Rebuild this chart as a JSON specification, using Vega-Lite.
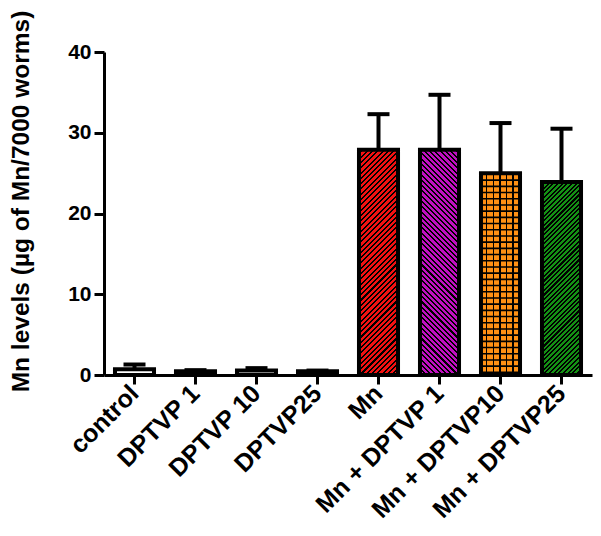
{
  "$schema": "https://vega.github.io/schema/vega-lite/v6.json",
  "width": 488,
  "height": 323,
  "autosize": {"type": "none"},
  "padding": {"left": 104, "top": 52, "right": 9, "bottom": 161},
  "background": "white",
  "config": {"view": {"stroke": null}, "font": "Liberation Sans"},
  "data": {"values": [
    {"group": "control", "value": 0.7, "upper": 1.3},
    {"group": "DPTVP 1", "value": 0.45, "upper": 0.6},
    {"group": "DPTVP 10", "value": 0.55, "upper": 0.85},
    {"group": "DPTVP25", "value": 0.45, "upper": 0.55},
    {"group": "Mn", "value": 27.9, "upper": 32.3},
    {"group": "Mn + DPTVP 1", "value": 27.9, "upper": 34.7},
    {"group": "Mn + DPTVP10", "value": 25.0, "upper": 31.2},
    {"group": "Mn + DPTVP25", "value": 23.9, "upper": 30.5}
  ]},
  "encoding": {
    "x": {"field": "group", "type": "nominal", "sort": null,
      "scale": {"domain": ["control", "DPTVP 1", "DPTVP 10", "DPTVP25", "Mn", "Mn + DPTVP 1", "Mn + DPTVP10", "Mn + DPTVP25"], "paddingInner": 0.36, "paddingOuter": 0.18},
      "axis": {"title": null, "labelAngle": -45, "labelAlign": "right", "labelBaseline": "middle",
        "labelFontSize": 25, "labelFontWeight": "bold", "labelColor": "black", "labelPadding": 5,
        "domainColor": "black", "domainWidth": 3, "tickColor": "black", "tickWidth": 3, "tickSize": 9}}
  },
  "layer": [
    {"mark": {"type": "rule", "strokeWidth": 4, "color": "black"},
     "encoding": {
       "y": {"field": "value", "type": "quantitative",
         "scale": {"domain": [0, 40], "nice": false},
         "axis": {"title": "Mn levels (µg of Mn/7000 worms)", "titleFontSize": 24.5, "titleFontWeight": "bold",
           "titleColor": "black", "titleX": -71, "titleY": 149, "titleBaseline": "bottom", "titleAngle": -90, "titleAlign": "center",
           "values": [0, 10, 20, 30, 40],
           "labelFontSize": 21, "labelFontWeight": "bold", "labelColor": "black", "labelPadding": 3,
           "domainColor": "black", "domainWidth": 3, "tickColor": "black", "tickWidth": 3, "tickSize": 10, "grid": false}},
       "y2": {"field": "upper"}}},
    {"mark": {"type": "tick", "thickness": 4, "size": 22, "color": "black", "opacity": 1},
     "encoding": {"y": {"field": "upper", "type": "quantitative"}}},
    {"mark": {"type": "bar", "fill": "white"},
     "encoding": {"y": {"field": "value", "type": "quantitative"}}},
    {"transform": [{"filter": "datum.group === 'Mn'"}],
     "mark": {"type": "bar", "fill": {"gradient": "linear", "x1": 0, "y1": 0, "x2": 0.1974, "y2": 1.1391, "stops": [
{"offset":0,"color":"#f21212"},{"offset":0.012,"color":"#f21212"},{"offset":0.012,"color":"#000"},{"offset":0.02,"color":"#000"},
{"offset":0.02,"color":"#f21212"},{"offset":0.032,"color":"#f21212"},{"offset":0.032,"color":"#000"},{"offset":0.04,"color":"#000"},
{"offset":0.04,"color":"#f21212"},{"offset":0.052,"color":"#f21212"},{"offset":0.052,"color":"#000"},{"offset":0.06,"color":"#000"},
{"offset":0.06,"color":"#f21212"},{"offset":0.072,"color":"#f21212"},{"offset":0.072,"color":"#000"},{"offset":0.08,"color":"#000"},
{"offset":0.08,"color":"#f21212"},{"offset":0.092,"color":"#f21212"},{"offset":0.092,"color":"#000"},{"offset":0.1,"color":"#000"},
{"offset":0.1,"color":"#f21212"},{"offset":0.112,"color":"#f21212"},{"offset":0.112,"color":"#000"},{"offset":0.12,"color":"#000"},
{"offset":0.12,"color":"#f21212"},{"offset":0.132,"color":"#f21212"},{"offset":0.132,"color":"#000"},{"offset":0.14,"color":"#000"},
{"offset":0.14,"color":"#f21212"},{"offset":0.152,"color":"#f21212"},{"offset":0.152,"color":"#000"},{"offset":0.16,"color":"#000"},
{"offset":0.16,"color":"#f21212"},{"offset":0.172,"color":"#f21212"},{"offset":0.172,"color":"#000"},{"offset":0.18,"color":"#000"},
{"offset":0.18,"color":"#f21212"},{"offset":0.192,"color":"#f21212"},{"offset":0.192,"color":"#000"},{"offset":0.2,"color":"#000"},
{"offset":0.2,"color":"#f21212"},{"offset":0.212,"color":"#f21212"},{"offset":0.212,"color":"#000"},{"offset":0.22,"color":"#000"},
{"offset":0.22,"color":"#f21212"},{"offset":0.232,"color":"#f21212"},{"offset":0.232,"color":"#000"},{"offset":0.24,"color":"#000"},
{"offset":0.24,"color":"#f21212"},{"offset":0.252,"color":"#f21212"},{"offset":0.252,"color":"#000"},{"offset":0.26,"color":"#000"},
{"offset":0.26,"color":"#f21212"},{"offset":0.272,"color":"#f21212"},{"offset":0.272,"color":"#000"},{"offset":0.28,"color":"#000"},
{"offset":0.28,"color":"#f21212"},{"offset":0.292,"color":"#f21212"},{"offset":0.292,"color":"#000"},{"offset":0.3,"color":"#000"},
{"offset":0.3,"color":"#f21212"},{"offset":0.312,"color":"#f21212"},{"offset":0.312,"color":"#000"},{"offset":0.32,"color":"#000"},
{"offset":0.32,"color":"#f21212"},{"offset":0.332,"color":"#f21212"},{"offset":0.332,"color":"#000"},{"offset":0.34,"color":"#000"},
{"offset":0.34,"color":"#f21212"},{"offset":0.352,"color":"#f21212"},{"offset":0.352,"color":"#000"},{"offset":0.36,"color":"#000"},
{"offset":0.36,"color":"#f21212"},{"offset":0.372,"color":"#f21212"},{"offset":0.372,"color":"#000"},{"offset":0.38,"color":"#000"},
{"offset":0.38,"color":"#f21212"},{"offset":0.392,"color":"#f21212"},{"offset":0.392,"color":"#000"},{"offset":0.4,"color":"#000"},
{"offset":0.4,"color":"#f21212"},{"offset":0.412,"color":"#f21212"},{"offset":0.412,"color":"#000"},{"offset":0.42,"color":"#000"},
{"offset":0.42,"color":"#f21212"},{"offset":0.432,"color":"#f21212"},{"offset":0.432,"color":"#000"},{"offset":0.44,"color":"#000"},
{"offset":0.44,"color":"#f21212"},{"offset":0.452,"color":"#f21212"},{"offset":0.452,"color":"#000"},{"offset":0.46,"color":"#000"},
{"offset":0.46,"color":"#f21212"},{"offset":0.472,"color":"#f21212"},{"offset":0.472,"color":"#000"},{"offset":0.48,"color":"#000"},
{"offset":0.48,"color":"#f21212"},{"offset":0.492,"color":"#f21212"},{"offset":0.492,"color":"#000"},{"offset":0.5,"color":"#000"},
{"offset":0.5,"color":"#f21212"},{"offset":0.512,"color":"#f21212"},{"offset":0.512,"color":"#000"},{"offset":0.52,"color":"#000"},
{"offset":0.52,"color":"#f21212"},{"offset":0.532,"color":"#f21212"},{"offset":0.532,"color":"#000"},{"offset":0.54,"color":"#000"},
{"offset":0.54,"color":"#f21212"},{"offset":0.552,"color":"#f21212"},{"offset":0.552,"color":"#000"},{"offset":0.56,"color":"#000"},
{"offset":0.56,"color":"#f21212"},{"offset":0.572,"color":"#f21212"},{"offset":0.572,"color":"#000"},{"offset":0.58,"color":"#000"},
{"offset":0.58,"color":"#f21212"},{"offset":0.592,"color":"#f21212"},{"offset":0.592,"color":"#000"},{"offset":0.6,"color":"#000"},
{"offset":0.6,"color":"#f21212"},{"offset":0.612,"color":"#f21212"},{"offset":0.612,"color":"#000"},{"offset":0.62,"color":"#000"},
{"offset":0.62,"color":"#f21212"},{"offset":0.632,"color":"#f21212"},{"offset":0.632,"color":"#000"},{"offset":0.64,"color":"#000"},
{"offset":0.64,"color":"#f21212"},{"offset":0.652,"color":"#f21212"},{"offset":0.652,"color":"#000"},{"offset":0.66,"color":"#000"},
{"offset":0.66,"color":"#f21212"},{"offset":0.672,"color":"#f21212"},{"offset":0.672,"color":"#000"},{"offset":0.68,"color":"#000"},
{"offset":0.68,"color":"#f21212"},{"offset":0.692,"color":"#f21212"},{"offset":0.692,"color":"#000"},{"offset":0.7,"color":"#000"},
{"offset":0.7,"color":"#f21212"},{"offset":0.712,"color":"#f21212"},{"offset":0.712,"color":"#000"},{"offset":0.72,"color":"#000"},
{"offset":0.72,"color":"#f21212"},{"offset":0.732,"color":"#f21212"},{"offset":0.732,"color":"#000"},{"offset":0.74,"color":"#000"},
{"offset":0.74,"color":"#f21212"},{"offset":0.752,"color":"#f21212"},{"offset":0.752,"color":"#000"},{"offset":0.76,"color":"#000"},
{"offset":0.76,"color":"#f21212"},{"offset":0.772,"color":"#f21212"},{"offset":0.772,"color":"#000"},{"offset":0.78,"color":"#000"},
{"offset":0.78,"color":"#f21212"},{"offset":0.792,"color":"#f21212"},{"offset":0.792,"color":"#000"},{"offset":0.8,"color":"#000"},
{"offset":0.8,"color":"#f21212"},{"offset":0.812,"color":"#f21212"},{"offset":0.812,"color":"#000"},{"offset":0.82,"color":"#000"},
{"offset":0.82,"color":"#f21212"},{"offset":0.832,"color":"#f21212"},{"offset":0.832,"color":"#000"},{"offset":0.84,"color":"#000"},
{"offset":0.84,"color":"#f21212"},{"offset":0.852,"color":"#f21212"},{"offset":0.852,"color":"#000"},{"offset":0.86,"color":"#000"},
{"offset":0.86,"color":"#f21212"},{"offset":0.872,"color":"#f21212"},{"offset":0.872,"color":"#000"},{"offset":0.88,"color":"#000"},
{"offset":0.88,"color":"#f21212"},{"offset":0.892,"color":"#f21212"},{"offset":0.892,"color":"#000"},{"offset":0.9,"color":"#000"},
{"offset":0.9,"color":"#f21212"},{"offset":0.912,"color":"#f21212"},{"offset":0.912,"color":"#000"},{"offset":0.92,"color":"#000"},
{"offset":0.92,"color":"#f21212"},{"offset":0.932,"color":"#f21212"},{"offset":0.932,"color":"#000"},{"offset":0.94,"color":"#000"},
{"offset":0.94,"color":"#f21212"},{"offset":0.952,"color":"#f21212"},{"offset":0.952,"color":"#000"},{"offset":0.96,"color":"#000"},
{"offset":0.96,"color":"#f21212"},{"offset":0.972,"color":"#f21212"},{"offset":0.972,"color":"#000"},{"offset":0.98,"color":"#000"},
{"offset":0.98,"color":"#f21212"},{"offset":0.992,"color":"#f21212"},{"offset":0.992,"color":"#000"},{"offset":1,"color":"#000"}
     ]}},
     "encoding": {"y": {"field": "value", "type": "quantitative"}}},
    {"transform": [{"filter": "datum.group === 'Mn + DPTVP 1'"}],
     "mark": {"type": "bar", "fill": {"gradient": "linear", "x1": 1, "y1": 0, "x2": 0.8026, "y2": 1.1391, "stops": [
{"offset":0,"color":"#c010c0"},{"offset":0.012,"color":"#c010c0"},{"offset":0.012,"color":"#000"},{"offset":0.02,"color":"#000"},
{"offset":0.02,"color":"#c010c0"},{"offset":0.032,"color":"#c010c0"},{"offset":0.032,"color":"#000"},{"offset":0.04,"color":"#000"},
{"offset":0.04,"color":"#c010c0"},{"offset":0.052,"color":"#c010c0"},{"offset":0.052,"color":"#000"},{"offset":0.06,"color":"#000"},
{"offset":0.06,"color":"#c010c0"},{"offset":0.072,"color":"#c010c0"},{"offset":0.072,"color":"#000"},{"offset":0.08,"color":"#000"},
{"offset":0.08,"color":"#c010c0"},{"offset":0.092,"color":"#c010c0"},{"offset":0.092,"color":"#000"},{"offset":0.1,"color":"#000"},
{"offset":0.1,"color":"#c010c0"},{"offset":0.112,"color":"#c010c0"},{"offset":0.112,"color":"#000"},{"offset":0.12,"color":"#000"},
{"offset":0.12,"color":"#c010c0"},{"offset":0.132,"color":"#c010c0"},{"offset":0.132,"color":"#000"},{"offset":0.14,"color":"#000"},
{"offset":0.14,"color":"#c010c0"},{"offset":0.152,"color":"#c010c0"},{"offset":0.152,"color":"#000"},{"offset":0.16,"color":"#000"},
{"offset":0.16,"color":"#c010c0"},{"offset":0.172,"color":"#c010c0"},{"offset":0.172,"color":"#000"},{"offset":0.18,"color":"#000"},
{"offset":0.18,"color":"#c010c0"},{"offset":0.192,"color":"#c010c0"},{"offset":0.192,"color":"#000"},{"offset":0.2,"color":"#000"},
{"offset":0.2,"color":"#c010c0"},{"offset":0.212,"color":"#c010c0"},{"offset":0.212,"color":"#000"},{"offset":0.22,"color":"#000"},
{"offset":0.22,"color":"#c010c0"},{"offset":0.232,"color":"#c010c0"},{"offset":0.232,"color":"#000"},{"offset":0.24,"color":"#000"},
{"offset":0.24,"color":"#c010c0"},{"offset":0.252,"color":"#c010c0"},{"offset":0.252,"color":"#000"},{"offset":0.26,"color":"#000"},
{"offset":0.26,"color":"#c010c0"},{"offset":0.272,"color":"#c010c0"},{"offset":0.272,"color":"#000"},{"offset":0.28,"color":"#000"},
{"offset":0.28,"color":"#c010c0"},{"offset":0.292,"color":"#c010c0"},{"offset":0.292,"color":"#000"},{"offset":0.3,"color":"#000"},
{"offset":0.3,"color":"#c010c0"},{"offset":0.312,"color":"#c010c0"},{"offset":0.312,"color":"#000"},{"offset":0.32,"color":"#000"},
{"offset":0.32,"color":"#c010c0"},{"offset":0.332,"color":"#c010c0"},{"offset":0.332,"color":"#000"},{"offset":0.34,"color":"#000"},
{"offset":0.34,"color":"#c010c0"},{"offset":0.352,"color":"#c010c0"},{"offset":0.352,"color":"#000"},{"offset":0.36,"color":"#000"},
{"offset":0.36,"color":"#c010c0"},{"offset":0.372,"color":"#c010c0"},{"offset":0.372,"color":"#000"},{"offset":0.38,"color":"#000"},
{"offset":0.38,"color":"#c010c0"},{"offset":0.392,"color":"#c010c0"},{"offset":0.392,"color":"#000"},{"offset":0.4,"color":"#000"},
{"offset":0.4,"color":"#c010c0"},{"offset":0.412,"color":"#c010c0"},{"offset":0.412,"color":"#000"},{"offset":0.42,"color":"#000"},
{"offset":0.42,"color":"#c010c0"},{"offset":0.432,"color":"#c010c0"},{"offset":0.432,"color":"#000"},{"offset":0.44,"color":"#000"},
{"offset":0.44,"color":"#c010c0"},{"offset":0.452,"color":"#c010c0"},{"offset":0.452,"color":"#000"},{"offset":0.46,"color":"#000"},
{"offset":0.46,"color":"#c010c0"},{"offset":0.472,"color":"#c010c0"},{"offset":0.472,"color":"#000"},{"offset":0.48,"color":"#000"},
{"offset":0.48,"color":"#c010c0"},{"offset":0.492,"color":"#c010c0"},{"offset":0.492,"color":"#000"},{"offset":0.5,"color":"#000"},
{"offset":0.5,"color":"#c010c0"},{"offset":0.512,"color":"#c010c0"},{"offset":0.512,"color":"#000"},{"offset":0.52,"color":"#000"},
{"offset":0.52,"color":"#c010c0"},{"offset":0.532,"color":"#c010c0"},{"offset":0.532,"color":"#000"},{"offset":0.54,"color":"#000"},
{"offset":0.54,"color":"#c010c0"},{"offset":0.552,"color":"#c010c0"},{"offset":0.552,"color":"#000"},{"offset":0.56,"color":"#000"},
{"offset":0.56,"color":"#c010c0"},{"offset":0.572,"color":"#c010c0"},{"offset":0.572,"color":"#000"},{"offset":0.58,"color":"#000"},
{"offset":0.58,"color":"#c010c0"},{"offset":0.592,"color":"#c010c0"},{"offset":0.592,"color":"#000"},{"offset":0.6,"color":"#000"},
{"offset":0.6,"color":"#c010c0"},{"offset":0.612,"color":"#c010c0"},{"offset":0.612,"color":"#000"},{"offset":0.62,"color":"#000"},
{"offset":0.62,"color":"#c010c0"},{"offset":0.632,"color":"#c010c0"},{"offset":0.632,"color":"#000"},{"offset":0.64,"color":"#000"},
{"offset":0.64,"color":"#c010c0"},{"offset":0.652,"color":"#c010c0"},{"offset":0.652,"color":"#000"},{"offset":0.66,"color":"#000"},
{"offset":0.66,"color":"#c010c0"},{"offset":0.672,"color":"#c010c0"},{"offset":0.672,"color":"#000"},{"offset":0.68,"color":"#000"},
{"offset":0.68,"color":"#c010c0"},{"offset":0.692,"color":"#c010c0"},{"offset":0.692,"color":"#000"},{"offset":0.7,"color":"#000"},
{"offset":0.7,"color":"#c010c0"},{"offset":0.712,"color":"#c010c0"},{"offset":0.712,"color":"#000"},{"offset":0.72,"color":"#000"},
{"offset":0.72,"color":"#c010c0"},{"offset":0.732,"color":"#c010c0"},{"offset":0.732,"color":"#000"},{"offset":0.74,"color":"#000"},
{"offset":0.74,"color":"#c010c0"},{"offset":0.752,"color":"#c010c0"},{"offset":0.752,"color":"#000"},{"offset":0.76,"color":"#000"},
{"offset":0.76,"color":"#c010c0"},{"offset":0.772,"color":"#c010c0"},{"offset":0.772,"color":"#000"},{"offset":0.78,"color":"#000"},
{"offset":0.78,"color":"#c010c0"},{"offset":0.792,"color":"#c010c0"},{"offset":0.792,"color":"#000"},{"offset":0.8,"color":"#000"},
{"offset":0.8,"color":"#c010c0"},{"offset":0.812,"color":"#c010c0"},{"offset":0.812,"color":"#000"},{"offset":0.82,"color":"#000"},
{"offset":0.82,"color":"#c010c0"},{"offset":0.832,"color":"#c010c0"},{"offset":0.832,"color":"#000"},{"offset":0.84,"color":"#000"},
{"offset":0.84,"color":"#c010c0"},{"offset":0.852,"color":"#c010c0"},{"offset":0.852,"color":"#000"},{"offset":0.86,"color":"#000"},
{"offset":0.86,"color":"#c010c0"},{"offset":0.872,"color":"#c010c0"},{"offset":0.872,"color":"#000"},{"offset":0.88,"color":"#000"},
{"offset":0.88,"color":"#c010c0"},{"offset":0.892,"color":"#c010c0"},{"offset":0.892,"color":"#000"},{"offset":0.9,"color":"#000"},
{"offset":0.9,"color":"#c010c0"},{"offset":0.912,"color":"#c010c0"},{"offset":0.912,"color":"#000"},{"offset":0.92,"color":"#000"},
{"offset":0.92,"color":"#c010c0"},{"offset":0.932,"color":"#c010c0"},{"offset":0.932,"color":"#000"},{"offset":0.94,"color":"#000"},
{"offset":0.94,"color":"#c010c0"},{"offset":0.952,"color":"#c010c0"},{"offset":0.952,"color":"#000"},{"offset":0.96,"color":"#000"},
{"offset":0.96,"color":"#c010c0"},{"offset":0.972,"color":"#c010c0"},{"offset":0.972,"color":"#000"},{"offset":0.98,"color":"#000"},
{"offset":0.98,"color":"#c010c0"},{"offset":0.992,"color":"#c010c0"},{"offset":0.992,"color":"#000"},{"offset":1,"color":"#000"}
     ]}},
     "encoding": {"y": {"field": "value", "type": "quantitative"}}},
    {"transform": [{"filter": "datum.group === 'Mn + DPTVP10'"}],
     "mark": {"type": "bar", "fill": {"gradient": "linear", "x1": 0, "y1": 0, "x2": 1, "y2": 0, "stops": [
{"offset":0,"color":"#ff9014"},{"offset":0.13,"color":"#ff9014"},{"offset":0.13,"color":"#000"},{"offset":0.1667,"color":"#000"},
{"offset":0.1667,"color":"#ff9014"},{"offset":0.2967,"color":"#ff9014"},{"offset":0.2967,"color":"#000"},{"offset":0.3333,"color":"#000"},
{"offset":0.3333,"color":"#ff9014"},{"offset":0.4633,"color":"#ff9014"},{"offset":0.4633,"color":"#000"},{"offset":0.5,"color":"#000"},
{"offset":0.5,"color":"#ff9014"},{"offset":0.63,"color":"#ff9014"},{"offset":0.63,"color":"#000"},{"offset":0.6667,"color":"#000"},
{"offset":0.6667,"color":"#ff9014"},{"offset":0.7967,"color":"#ff9014"},{"offset":0.7967,"color":"#000"},{"offset":0.8333,"color":"#000"},
{"offset":0.8333,"color":"#ff9014"},{"offset":0.9633,"color":"#ff9014"},{"offset":0.9633,"color":"#000"},{"offset":1,"color":"#000"}
     ]}},
     "encoding": {"y": {"field": "value", "type": "quantitative"}}},
    {"transform": [{"filter": "datum.group === 'Mn + DPTVP10'"}],
     "mark": {"type": "rule", "strokeWidth": 39, "strokeDash": [1.6, 4.6], "color": "black"},
     "encoding": {"y": {"field": "value", "type": "quantitative"}, "y2": {"datum": 0}}},
    {"transform": [{"filter": "datum.group === 'Mn + DPTVP25'"}],
     "mark": {"type": "bar", "fill": {"gradient": "linear", "x1": 0, "y1": 0, "x2": 0.2336, "y2": 1.155, "stops": [
{"offset":0,"color":"#149014"},{"offset":0.011,"color":"#149014"},{"offset":0.011,"color":"#000"},{"offset":0.02,"color":"#000"},
{"offset":0.02,"color":"#149014"},{"offset":0.031,"color":"#149014"},{"offset":0.031,"color":"#000"},{"offset":0.04,"color":"#000"},
{"offset":0.04,"color":"#149014"},{"offset":0.051,"color":"#149014"},{"offset":0.051,"color":"#000"},{"offset":0.06,"color":"#000"},
{"offset":0.06,"color":"#149014"},{"offset":0.071,"color":"#149014"},{"offset":0.071,"color":"#000"},{"offset":0.08,"color":"#000"},
{"offset":0.08,"color":"#149014"},{"offset":0.091,"color":"#149014"},{"offset":0.091,"color":"#000"},{"offset":0.1,"color":"#000"},
{"offset":0.1,"color":"#149014"},{"offset":0.111,"color":"#149014"},{"offset":0.111,"color":"#000"},{"offset":0.12,"color":"#000"},
{"offset":0.12,"color":"#149014"},{"offset":0.131,"color":"#149014"},{"offset":0.131,"color":"#000"},{"offset":0.14,"color":"#000"},
{"offset":0.14,"color":"#149014"},{"offset":0.151,"color":"#149014"},{"offset":0.151,"color":"#000"},{"offset":0.16,"color":"#000"},
{"offset":0.16,"color":"#149014"},{"offset":0.171,"color":"#149014"},{"offset":0.171,"color":"#000"},{"offset":0.18,"color":"#000"},
{"offset":0.18,"color":"#149014"},{"offset":0.191,"color":"#149014"},{"offset":0.191,"color":"#000"},{"offset":0.2,"color":"#000"},
{"offset":0.2,"color":"#149014"},{"offset":0.211,"color":"#149014"},{"offset":0.211,"color":"#000"},{"offset":0.22,"color":"#000"},
{"offset":0.22,"color":"#149014"},{"offset":0.231,"color":"#149014"},{"offset":0.231,"color":"#000"},{"offset":0.24,"color":"#000"},
{"offset":0.24,"color":"#149014"},{"offset":0.251,"color":"#149014"},{"offset":0.251,"color":"#000"},{"offset":0.26,"color":"#000"},
{"offset":0.26,"color":"#149014"},{"offset":0.271,"color":"#149014"},{"offset":0.271,"color":"#000"},{"offset":0.28,"color":"#000"},
{"offset":0.28,"color":"#149014"},{"offset":0.291,"color":"#149014"},{"offset":0.291,"color":"#000"},{"offset":0.3,"color":"#000"},
{"offset":0.3,"color":"#149014"},{"offset":0.311,"color":"#149014"},{"offset":0.311,"color":"#000"},{"offset":0.32,"color":"#000"},
{"offset":0.32,"color":"#149014"},{"offset":0.331,"color":"#149014"},{"offset":0.331,"color":"#000"},{"offset":0.34,"color":"#000"},
{"offset":0.34,"color":"#149014"},{"offset":0.351,"color":"#149014"},{"offset":0.351,"color":"#000"},{"offset":0.36,"color":"#000"},
{"offset":0.36,"color":"#149014"},{"offset":0.371,"color":"#149014"},{"offset":0.371,"color":"#000"},{"offset":0.38,"color":"#000"},
{"offset":0.38,"color":"#149014"},{"offset":0.391,"color":"#149014"},{"offset":0.391,"color":"#000"},{"offset":0.4,"color":"#000"},
{"offset":0.4,"color":"#149014"},{"offset":0.411,"color":"#149014"},{"offset":0.411,"color":"#000"},{"offset":0.42,"color":"#000"},
{"offset":0.42,"color":"#149014"},{"offset":0.431,"color":"#149014"},{"offset":0.431,"color":"#000"},{"offset":0.44,"color":"#000"},
{"offset":0.44,"color":"#149014"},{"offset":0.451,"color":"#149014"},{"offset":0.451,"color":"#000"},{"offset":0.46,"color":"#000"},
{"offset":0.46,"color":"#149014"},{"offset":0.471,"color":"#149014"},{"offset":0.471,"color":"#000"},{"offset":0.48,"color":"#000"},
{"offset":0.48,"color":"#149014"},{"offset":0.491,"color":"#149014"},{"offset":0.491,"color":"#000"},{"offset":0.5,"color":"#000"},
{"offset":0.5,"color":"#149014"},{"offset":0.511,"color":"#149014"},{"offset":0.511,"color":"#000"},{"offset":0.52,"color":"#000"},
{"offset":0.52,"color":"#149014"},{"offset":0.531,"color":"#149014"},{"offset":0.531,"color":"#000"},{"offset":0.54,"color":"#000"},
{"offset":0.54,"color":"#149014"},{"offset":0.551,"color":"#149014"},{"offset":0.551,"color":"#000"},{"offset":0.56,"color":"#000"},
{"offset":0.56,"color":"#149014"},{"offset":0.571,"color":"#149014"},{"offset":0.571,"color":"#000"},{"offset":0.58,"color":"#000"},
{"offset":0.58,"color":"#149014"},{"offset":0.591,"color":"#149014"},{"offset":0.591,"color":"#000"},{"offset":0.6,"color":"#000"},
{"offset":0.6,"color":"#149014"},{"offset":0.611,"color":"#149014"},{"offset":0.611,"color":"#000"},{"offset":0.62,"color":"#000"},
{"offset":0.62,"color":"#149014"},{"offset":0.631,"color":"#149014"},{"offset":0.631,"color":"#000"},{"offset":0.64,"color":"#000"},
{"offset":0.64,"color":"#149014"},{"offset":0.651,"color":"#149014"},{"offset":0.651,"color":"#000"},{"offset":0.66,"color":"#000"},
{"offset":0.66,"color":"#149014"},{"offset":0.671,"color":"#149014"},{"offset":0.671,"color":"#000"},{"offset":0.68,"color":"#000"},
{"offset":0.68,"color":"#149014"},{"offset":0.691,"color":"#149014"},{"offset":0.691,"color":"#000"},{"offset":0.7,"color":"#000"},
{"offset":0.7,"color":"#149014"},{"offset":0.711,"color":"#149014"},{"offset":0.711,"color":"#000"},{"offset":0.72,"color":"#000"},
{"offset":0.72,"color":"#149014"},{"offset":0.731,"color":"#149014"},{"offset":0.731,"color":"#000"},{"offset":0.74,"color":"#000"},
{"offset":0.74,"color":"#149014"},{"offset":0.751,"color":"#149014"},{"offset":0.751,"color":"#000"},{"offset":0.76,"color":"#000"},
{"offset":0.76,"color":"#149014"},{"offset":0.771,"color":"#149014"},{"offset":0.771,"color":"#000"},{"offset":0.78,"color":"#000"},
{"offset":0.78,"color":"#149014"},{"offset":0.791,"color":"#149014"},{"offset":0.791,"color":"#000"},{"offset":0.8,"color":"#000"},
{"offset":0.8,"color":"#149014"},{"offset":0.811,"color":"#149014"},{"offset":0.811,"color":"#000"},{"offset":0.82,"color":"#000"},
{"offset":0.82,"color":"#149014"},{"offset":0.831,"color":"#149014"},{"offset":0.831,"color":"#000"},{"offset":0.84,"color":"#000"},
{"offset":0.84,"color":"#149014"},{"offset":0.851,"color":"#149014"},{"offset":0.851,"color":"#000"},{"offset":0.86,"color":"#000"},
{"offset":0.86,"color":"#149014"},{"offset":0.871,"color":"#149014"},{"offset":0.871,"color":"#000"},{"offset":0.88,"color":"#000"},
{"offset":0.88,"color":"#149014"},{"offset":0.891,"color":"#149014"},{"offset":0.891,"color":"#000"},{"offset":0.9,"color":"#000"},
{"offset":0.9,"color":"#149014"},{"offset":0.911,"color":"#149014"},{"offset":0.911,"color":"#000"},{"offset":0.92,"color":"#000"},
{"offset":0.92,"color":"#149014"},{"offset":0.931,"color":"#149014"},{"offset":0.931,"color":"#000"},{"offset":0.94,"color":"#000"},
{"offset":0.94,"color":"#149014"},{"offset":0.951,"color":"#149014"},{"offset":0.951,"color":"#000"},{"offset":0.96,"color":"#000"},
{"offset":0.96,"color":"#149014"},{"offset":0.971,"color":"#149014"},{"offset":0.971,"color":"#000"},{"offset":0.98,"color":"#000"},
{"offset":0.98,"color":"#149014"},{"offset":0.991,"color":"#149014"},{"offset":0.991,"color":"#000"},{"offset":1,"color":"#000"}
     ]}},
     "encoding": {"y": {"field": "value", "type": "quantitative"}}},
    {"mark": {"type": "bar", "fillOpacity": 0, "stroke": "black", "strokeWidth": 4},
     "encoding": {"y": {"field": "value", "type": "quantitative"}}}
  ]
}
